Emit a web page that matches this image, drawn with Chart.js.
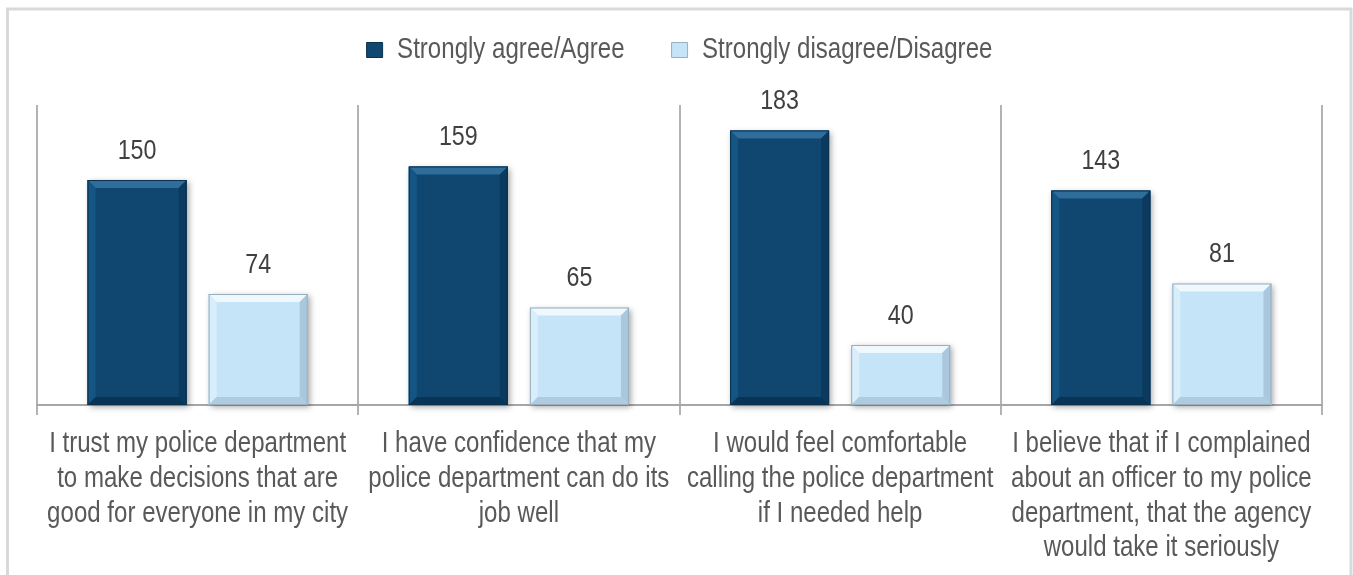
<!DOCTYPE html>
<html>
<head>
<meta charset="utf-8">
<script src="https://cdn.jsdelivr.net/npm/chart.js@4/dist/chart.umd.min.js"></script>
<style>
  html, body { margin: 0; padding: 0; background: #ffffff; }
  #wrap { position: relative; width: 1353px; height: 575px; }
</style>
</head>
<body>
<div id="wrap"><canvas id="c" width="1353" height="575"></canvas></div>
<script>
const categories = [
  ["I trust my police department", "to make decisions that are", "good for everyone in my city"],
  ["I have confidence that my", "police department can do its", "job well"],
  ["I would feel comfortable", "calling the police department", "if I needed help"],
  ["I believe that if I complained", "about an officer to my police", "department, that the agency", "would take it seriously"]
];
const seriesNames = ["Strongly agree/Agree", "Strongly disagree/Disagree"];
const agreeValues = [150, 159, 183, 143];
const disagreeValues = [74, 65, 40, 81];
const yMin = 0;
const yMax = 200;

// Condensed rendering of the sans font (emulates a narrow typeface)
const NARROW = 0.83;
(function () {
  const P = CanvasRenderingContext2D.prototype;
  const origFill = P.fillText;
  const origMeasure = P.measureText;
  P.fillText = function (text, x, y, maxWidth) {
    this.save();
    this.translate(x, y);
    this.scale(NARROW, 1);
    if (maxWidth !== undefined) origFill.call(this, text, 0, 0, maxWidth / NARROW);
    else origFill.call(this, text, 0, 0);
    this.restore();
  };
  P.measureText = function (text) {
    const m = origMeasure.call(this, text);
    return {
      width: m.width * NARROW,
      actualBoundingBoxAscent: m.actualBoundingBoxAscent,
      actualBoundingBoxDescent: m.actualBoundingBoxDescent,
      actualBoundingBoxLeft: m.actualBoundingBoxLeft * NARROW,
      actualBoundingBoxRight: m.actualBoundingBoxRight * NARROW,
      fontBoundingBoxAscent: m.fontBoundingBoxAscent,
      fontBoundingBoxDescent: m.fontBoundingBoxDescent
    };
  };
})();

const FONT = "'Liberation Sans', Arial, sans-serif";

const styles = [
  { main: '#0f4770', top: '#2f6d9a', left: '#155583', right: '#0b3a5e', bottom: '#0a3455', border: '#0a3150' },
  { main: '#c6e4f7', top: '#eef8fd', left: '#d8eefb', right: '#a9c8de', bottom: '#aecbdf', border: '#98afc0' }
];

const frame = {
  id: 'frame',
  beforeDraw(chart) {
    const ctx = chart.ctx;
    ctx.save();
    ctx.strokeStyle = '#d9d9d9';
    ctx.lineWidth = 3;
    ctx.strokeRect(7.5, 9, 1343.5, 700);
    ctx.restore();
  }
};

function barRect(el) {
  const p = el.getProps(['x', 'y', 'base', 'width'], true);
  return { l: p.x - p.width / 2, r: p.x + p.width / 2, t: Math.min(p.y, p.base), b: Math.max(p.y, p.base), x: p.x };
}

const bevel = {
  id: 'bevel',
  beforeDatasetsDraw(chart) {
    const ctx = chart.ctx;
    chart.data.datasets.forEach((ds, di) => {
      const meta = chart.getDatasetMeta(di);
      meta.data.forEach(el => {
        const r = barRect(el);
        ctx.save();
        ctx.shadowColor = 'rgba(0,0,0,0.35)';
        ctx.shadowBlur = 6;
        ctx.shadowOffsetX = 2;
        ctx.shadowOffsetY = 2;
        ctx.fillStyle = styles[di].main;
        ctx.fillRect(r.l, r.t, r.r - r.l, r.b - r.t);
        ctx.restore();
      });
    });
  },
  afterDatasetsDraw(chart) {
    const ctx = chart.ctx;
    chart.data.datasets.forEach((ds, di) => {
      const meta = chart.getDatasetMeta(di);
      const s = styles[di];
      meta.data.forEach((el, i) => {
        const r = barRect(el);
        const b = 8;
        const poly = (pts, color) => {
          ctx.beginPath();
          ctx.moveTo(pts[0][0], pts[0][1]);
          for (let k = 1; k < pts.length; k++) ctx.lineTo(pts[k][0], pts[k][1]);
          ctx.closePath();
          ctx.fillStyle = color;
          ctx.fill();
        };
        ctx.save();
        poly([[r.l, r.t], [r.r, r.t], [r.r - b, r.t + b], [r.l + b, r.t + b]], s.top);
        poly([[r.l, r.t], [r.l + b, r.t + b], [r.l + b, r.b - b], [r.l, r.b]], s.left);
        poly([[r.r, r.t], [r.r, r.b], [r.r - b, r.b - b], [r.r - b, r.t + b]], s.right);
        poly([[r.l, r.b], [r.l + b, r.b - b], [r.r - b, r.b - b], [r.r, r.b]], s.bottom);
        ctx.strokeStyle = s.border;
        ctx.lineWidth = 1;
        ctx.strokeRect(r.l + 0.5, r.t + 0.5, r.r - r.l - 1, r.b - r.t - 1);
        ctx.fillStyle = '#404040';
        ctx.font = '28px ' + FONT;
        ctx.textAlign = 'center';
        ctx.textBaseline = 'middle';
        ctx.fillText(String(ds.data[i]), r.x, r.t - 29);
        ctx.restore();
      });
    });
  }
};

new Chart(document.getElementById('c'), {
  type: 'bar',
  data: {
    labels: categories,
    datasets: [
      { label: seriesNames[0], data: agreeValues, backgroundColor: styles[0].main, borderColor: styles[0].border, borderWidth: 1 },
      { label: seriesNames[1], data: disagreeValues, backgroundColor: styles[1].main, borderColor: styles[1].border, borderWidth: 1 }
    ]
  },
  options: {
    responsive: false,
    animation: false,
    devicePixelRatio: 1,
    layout: { padding: { left: 37, right: 31, top: -11.5, bottom: -2.2 } },
    datasets: { bar: { categoryPercentage: 0.754, barPercentage: 0.818 } },
    plugins: {
      tooltip: { enabled: false },
      legend: {
        position: 'top',
        labels: {
          font: { family: FONT, size: 29 },
          color: '#595959',
          boxWidth: 16,
          boxHeight: 15,
          padding: 47
        }
      },
      title: {
        display: true,
        text: ' ',
        font: { size: 1 },
        padding: { top: 0, bottom: 29.3 },
        weight: 500
      }
    },
    scales: {
      x: {
        grid: { display: true, offset: true, color: '#b3b3b3', lineWidth: 2, tickLength: 10, drawTicks: true },
        border: { display: true, color: '#a6a6a6', width: 2 },
        ticks: {
          font: { family: FONT, size: 29, lineHeight: 1.2 },
          color: '#595959',
          maxRotation: 0,
          minRotation: 0,
          autoSkip: false,
          padding: 11.5
        }
      },
      y: {
        display: false,
        min: yMin,
        max: yMax
      }
    }
  },
  plugins: [frame, bevel]
});
</script>
</body>
</html>
